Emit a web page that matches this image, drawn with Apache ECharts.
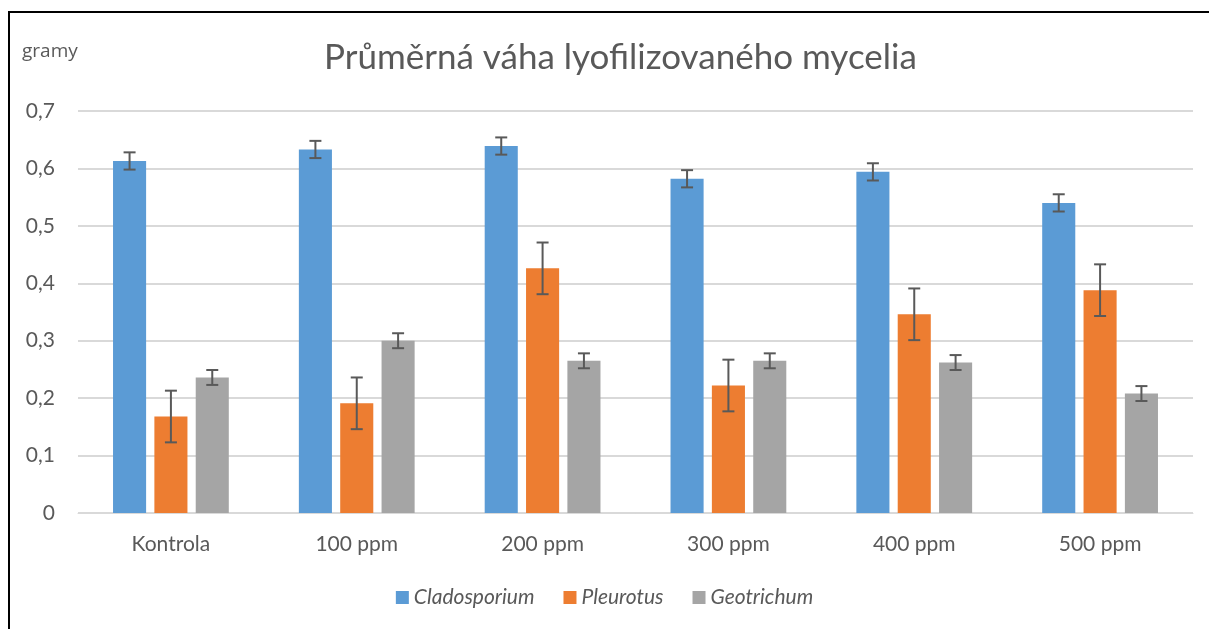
<!DOCTYPE html>
<html>
<head>
<meta charset="utf-8">
<script src="https://cdn.jsdelivr.net/npm/echarts@6/dist/echarts.min.js"></script>
<style>
  html, body { margin: 0; padding: 0; background: #fff; }
  #main { width: 1209px; height: 629px; }
</style>
</head>
<body>
<div id="main"></div>
<script>
var myChart = echarts.init(document.getElementById('main'));

var categories = ['Kontrola', '100 ppm', '200 ppm', '300 ppm', '400 ppm', '500 ppm'];
var seriesNames = ['Cladosporium', 'Pleurotus', 'Geotrichum'];
var colors = ['#5b9bd5', '#ed7d31', '#a5a5a5'];

var cladosporium = [0.613, 0.633, 0.639, 0.582, 0.594, 0.540];
var pleurotus = [0.168, 0.191, 0.426, 0.222, 0.346, 0.388];
var geotrichum = [0.236, 0.300, 0.265, 0.265, 0.262, 0.208];

var cladosporiumErr = [0.015, 0.015, 0.015, 0.015, 0.015, 0.015];
var pleurotusErr = [0.045, 0.045, 0.045, 0.045, 0.045, 0.045];
var geotrichumErr = [0.013, 0.013, 0.013, 0.013, 0.013, 0.013];

var values = [cladosporium, pleurotus, geotrichum];
var errors = [cladosporiumErr, pleurotusErr, geotrichumErr];

var BAR_PCT = 0.178;
var GAP_PCT = 0.25;

function errorSeries(idx) {
  var data = values[idx].map(function (v, i) {
    return [i, v - errors[idx][i], v + errors[idx][i]];
  });
  return {
    type: 'custom',
    name: seriesNames[idx] + ' err',
    data: data,
    z: 10,
    silent: true,
    renderItem: function (params, api) {
      var band = api.size([1, 0])[0];
      var barW = band * BAR_PCT;
      var off = (idx - 1) * barW * (1 + GAP_PCT);
      var lo = api.coord([api.value(0), api.value(1)]);
      var hi = api.coord([api.value(0), api.value(2)]);
      var x = lo[0] + off;
      var cap = 6;
      var style = { stroke: '#595959', lineWidth: 2 };
      return {
        type: 'group',
        children: [
          { type: 'line', shape: { x1: x, y1: hi[1], x2: x, y2: lo[1] }, style: style },
          { type: 'line', shape: { x1: x - cap, y1: hi[1], x2: x + cap, y2: hi[1] }, style: style },
          { type: 'line', shape: { x1: x - cap, y1: lo[1], x2: x + cap, y2: lo[1] }, style: style }
        ]
      };
    }
  };
}

var series = [];
seriesNames.forEach(function (name, idx) {
  series.push({
    name: name,
    type: 'bar',
    data: values[idx],
    barWidth: (BAR_PCT * 100) + '%',
    barGap: (GAP_PCT * 100) + '%',
    itemStyle: { color: colors[idx] }
  });
});
seriesNames.forEach(function (name, idx) {
  series.push(errorSeries(idx));
});

var option = {
  backgroundColor: '#fff',
  animation: false,
  textStyle: { fontFamily: 'Lato' },
  title: {
    text: 'Průměrná váha lyofilizovaného mycelia',
    left: 319,
    top: 35,
    textStyle: { fontSize: 35, fontWeight: 'normal', color: '#595959', fontFamily: 'Lato' }
  },
  graphic: [
    {
      type: 'rect',
      shape: { x: 9, y: 12, width: 1230, height: 650 },
      style: { fill: 'none', stroke: '#000', lineWidth: 2 }
    },
    {
      type: 'text',
      left: 22,
      top: 42,
      style: { text: 'gramy', fontSize: 19, fill: '#595959', fontFamily: 'Open Sans' }
    }
  ],
  legend: {
    data: seriesNames,
    top: 582,
    left: 'center',
    itemWidth: 13,
    itemHeight: 13,
    itemGap: 29,
    icon: 'rect',
    textStyle: { fontSize: 21, fontStyle: 'italic', color: '#595959', fontFamily: 'Lato' }
  },
  grid: { left: 78, right: 16, top: 111, bottom: 116, containLabel: false },
  xAxis: {
    type: 'category',
    data: categories,
    axisTick: { show: false },
    axisLine: { lineStyle: { color: '#d9d9d9', width: 1 } },
    axisLabel: { fontSize: 21, color: '#595959', margin: 21 }
  },
  yAxis: {
    type: 'value',
    min: 0,
    max: 0.7,
    interval: 0.1,
    axisLine: { show: false },
    axisTick: { show: false },
    splitLine: { lineStyle: { color: '#d9d9d9', width: 2 } },
    axisLabel: {
      fontSize: 21,
      color: '#595959',
      margin: 23,
      formatter: function (v) { return String(Math.round(v * 10) / 10).replace('.', ','); }
    }
  },
  series: series
};
myChart.setOption(option);
</script>
</body>
</html>
